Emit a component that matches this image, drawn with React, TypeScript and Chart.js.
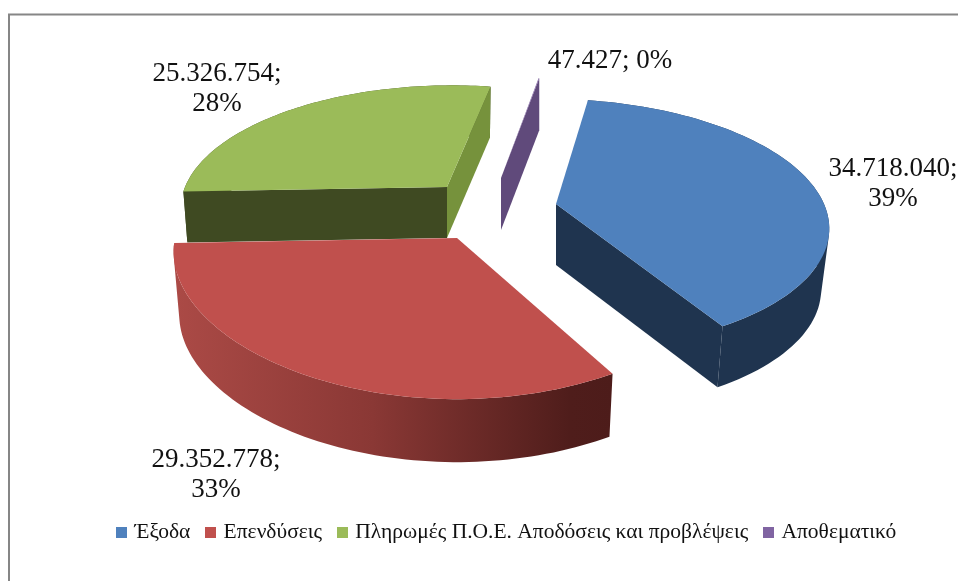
import React, { useEffect, useRef } from "react";
import { Chart, registerables } from "chart.js";

Chart.register(...registerables);

const categories = ["Έξοδα", "Επενδύσεις", "Πληρωμές Π.Ο.Ε. Αποδόσεις και προβλέψεις", "Αποθεματικό"];
const values = [34718040, 29352778, 25326754, 47427];
const colors = ["#4F81BD", "#C0504D", "#9BBB59", "#8064A2"];

const FONT = '"Liberation Serif", "Times New Roman", serif';

// projection settings of each slice (pseudo 3D view)
const view = [
  { ax: 556, ay: 204, R: 268, s: 0.455, kx: 0.16, ky: 0.16, skew: 0.08, h: 61, eb: 0.03 },
  { ax: 457, ay: 238, R: 282, s: 0.48, kx: 0.1, ky: 0.16, skew: 0, h: 63, eb: 0.02 },
  { ax: 447, ay: 187, R: 262, s: 0.45, kx: 0.16, ky: 0.16, skew: -0.05, h: 51, eb: 0.015 },
  { ax: 501, ay: 178, R: 255, s: 0.46, kx: 0.16, ky: 0.16, skew: 0, h: 52, eb: 0 },
];
const drawOrder = [2, 3, 0, 1];
const labelSpots = [
  { x: 893, y: 176 },
  { x: 216, y: 467 },
  { x: 217, y: 81 },
  { x: 610, y: 68 },
];
const twoLines = [true, true, true, false];

type View = (typeof view)[number];
type Pt = { x: number; y: number };

function project(v: View, a: number, bottom: boolean): Pt {
  const u = Math.sin(a);
  const d = -Math.cos(a);
  let dx = (v.R * u) / (1 - v.kx * d);
  const dy = (v.R * v.s * d) / (1 - v.ky * d);
  dx += v.skew * dy;
  if (bottom) dx *= 1 - v.eb;
  return { x: v.ax + dx, y: v.ay + dy + (bottom ? v.h : 0) };
}

function poly(ctx: CanvasRenderingContext2D, pts: Pt[], fill: string | CanvasGradient) {
  ctx.beginPath();
  pts.forEach((p, i) => (i ? ctx.lineTo(p.x, p.y) : ctx.moveTo(p.x, p.y)));
  ctx.closePath();
  ctx.fillStyle = fill;
  ctx.fill();
}

function rim(v: View, a0: number, a1: number, bottom: boolean) {
  const n = 80;
  const pts: Pt[] = [];
  for (let i = 0; i <= n; i++) pts.push(project(v, a0 + ((a1 - a0) * i) / n, bottom));
  return pts;
}

// the swept side of a slice, as one path so that no seams show between the strips
function wall(ctx: CanvasRenderingContext2D, top: Pt[], bot: Pt[], fill: string | CanvasGradient) {
  ctx.beginPath();
  for (let i = 0; i < top.length - 1; i++) {
    let q = [top[i], top[i + 1], bot[i + 1], bot[i]];
    let area = 0;
    q.forEach((p, j) => {
      const n = q[(j + 1) % 4];
      area += p.x * n.y - n.x * p.y;
    });
    if (area < 0) q = q.reverse();
    q.forEach((p, j) => (j ? ctx.lineTo(p.x, p.y) : ctx.moveTo(p.x, p.y)));
    ctx.closePath();
  }
  ctx.fillStyle = fill;
  ctx.fill("nonzero");
}

function swatch(color: string) {
  const c = document.createElement("canvas");
  c.width = 11;
  c.height = 11;
  const g = c.getContext("2d") as CanvasRenderingContext2D;
  g.fillStyle = color;
  g.fillRect(0, 0, 11, 11);
  return c;
}

const pie3d = {
  id: "pie3d",
  beforeDraw(chart: any) {
    const { ctx } = chart;
    ctx.save();
    ctx.fillStyle = "#fff";
    ctx.fillRect(0, 0, chart.width, chart.height);
    ctx.strokeStyle = "#868686";
    ctx.lineWidth = 2;
    ctx.beginPath();
    ctx.moveTo(9, 581);
    ctx.lineTo(9, 14.5);
    ctx.lineTo(958, 14.5);
    ctx.stroke();
    ctx.restore();
  },
  beforeDatasetsDraw(chart: any) {
    const { ctx } = chart;
    const arcs = chart.getDatasetMeta(0).data;
    ctx.save();
    for (const i of drawOrder) {
      const v = view[i];
      const a0 = arcs[i].startAngle + Math.PI / 2;
      const a1 = arcs[i].endAngle + Math.PI / 2;
      const apexTop = { x: v.ax, y: v.ay };
      const apexBot = { x: v.ax, y: v.ay + v.h };
      const topRim = rim(v, a0, a1, false);
      const botRim = rim(v, a0, a1, true);
      if (i === 0) {
        wall(ctx, topRim, botRim, "#1F344F");
        poly(ctx, [apexTop, topRim[80], botRim[80], apexBot], "#1F344F");
      } else if (i === 1) {
        const g = ctx.createLinearGradient(v.ax - v.R, 0, v.ax + 157, 0);
        g.addColorStop(0, "#AB4A46");
        g.addColorStop(0.45, "#8A3835");
        g.addColorStop(0.9, "#4F1D1B");
        g.addColorStop(1, "#4D1C1A");
        wall(ctx, topRim, botRim, g);
      } else if (i === 2) {
        wall(ctx, topRim, botRim, "#3F4A22");
        poly(ctx, [apexTop, topRim[0], botRim[0], apexBot], "#3F4A22");
        poly(ctx, [apexTop, topRim[80], botRim[80], apexBot], "#76923C");
      } else {
        poly(ctx, [apexTop, topRim[80], botRim[80], apexBot], "#604A7B");
      }
      poly(ctx, [apexTop, ...topRim], colors[i]);
    }
    // data labels
    const total = values.reduce((s, x) => s + x, 0);
    ctx.fillStyle = "#111";
    ctx.font = `27px ${FONT}`;
    ctx.textAlign = "center";
    ctx.textBaseline = "alphabetic";
    values.forEach((val, i) => {
      const num = val.toLocaleString("de-DE") + ";";
      const pct = Math.round((val / total) * 100) + "%";
      const spot = labelSpots[i];
      if (twoLines[i]) {
        ctx.fillText(num, spot.x, spot.y);
        ctx.fillText(pct, spot.x, spot.y + 30);
      } else {
        ctx.fillText(num + " " + pct, spot.x, spot.y);
      }
    });
    ctx.restore();
    return false;
  },
};

export default function App() {
  const ref = useRef<HTMLCanvasElement>(null);
  useEffect(() => {
    document.body.style.margin = "0";
    const swatches = colors.map(swatch);
    const chart = new Chart(ref.current as HTMLCanvasElement, {
      type: "pie",
      data: {
        labels: categories,
        datasets: [{ data: values, backgroundColor: colors, borderWidth: 0 }],
      },
      options: {
        animation: false,
        responsive: false,
        rotation: 10,
        layout: { padding: { left: 58, bottom: 28 } },
        plugins: {
          tooltip: { enabled: false },
          legend: {
            position: "bottom",
            labels: {
              usePointStyle: true,
              pointStyleWidth: 4,
              padding: 18.5,
              color: "#111",
              font: { family: FONT, size: 21.5 },
              generateLabels(c: any) {
                const items = (Chart as any).overrides.doughnut.plugins.legend.labels.generateLabels(c);
                items.forEach((it: any, i: number) => {
                  it.pointStyle = swatches[i];
                });
                return items;
              },
            },
          },
        },
      },
      plugins: [pie3d as any],
    } as any);
    return () => chart.destroy();
  }, []);
  return <canvas ref={ref} width={958} height={581} style={{ display: "block" }} />;
}
